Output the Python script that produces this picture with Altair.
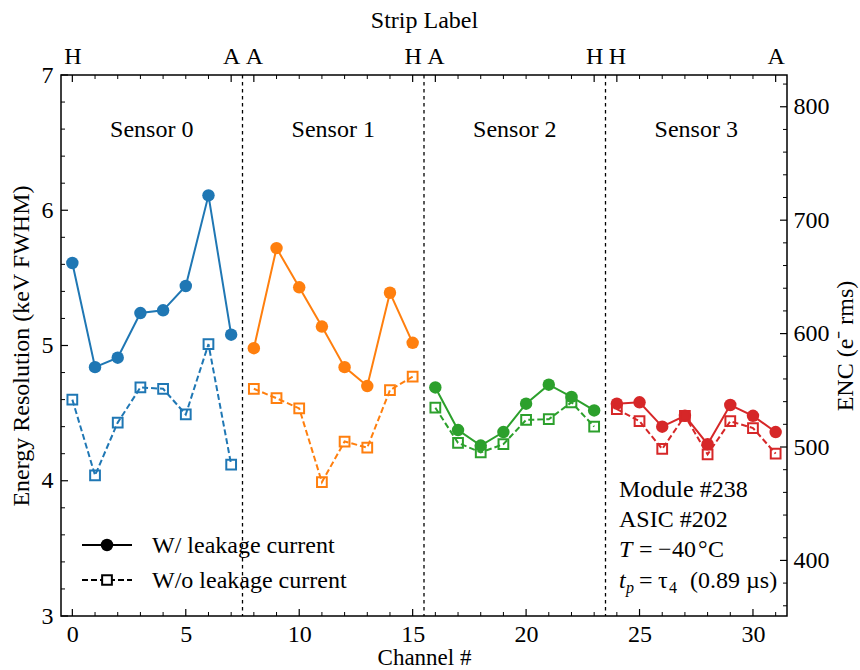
import altair as alt
import pandas as pd

# ---------------- data ----------------
channels = list(range(32))
sensor_names = ["Sensor 0", "Sensor 1", "Sensor 2", "Sensor 3"]
sensor_colors = ["#1f77b4", "#ff7f0e", "#2ca02c", "#d62728"]
with_leak = [5.61, 4.84, 4.91, 5.24, 5.26, 5.44, 6.11, 5.08,
             4.98, 5.72, 5.43, 5.14, 4.84, 4.70, 5.39, 5.02,
             4.69, 4.375, 4.26, 4.36, 4.57, 4.71, 4.62, 4.52,
             4.57, 4.58, 4.40, 4.48, 4.27, 4.56, 4.48, 4.36]
without_leak = [4.60, 4.04, 4.43, 4.69, 4.68, 4.49, 5.01, 4.12,
                4.68, 4.61, 4.535, 3.99, 4.29, 4.245, 4.67, 4.77,
                4.54, 4.28, 4.21, 4.27, 4.45, 4.455, 4.58, 4.40,
                4.53, 4.44, 4.235, 4.48, 4.195, 4.44, 4.39, 4.20]
strip_tick_channels = [0, 7, 8, 15, 16, 23, 24, 31]
strip_tick_labels = ["H", "A", "A", "H", "A", "H", "H", "A"]
boundaries = [7.5, 15.5, 23.5]
x_major = [0, 5, 10, 15, 20, 25, 30]
y_major = [3, 4, 5, 6, 7]
y_minor = [3.2, 3.4, 3.6, 3.8, 4.2, 4.4, 4.6, 4.8, 5.2, 5.4, 5.6, 5.8,
           6.2, 6.4, 6.6, 6.8]
enc_major = [400, 500, 600, 700, 800]
enc_minor = [360, 380, 420, 440, 460, 480, 520, 540, 560, 580, 620, 640,
             660, 680, 720, 740, 760, 780, 820]
enc_domain = [351, 828]
legend_labels = ["W/ leakage current", "W/o leakage current"]
info_lines = ["Module #238", "ASIC #202"]

df = pd.DataFrame({
    "channel": channels,
    "sensor": [sensor_names[c // 8] for c in channels],
    "with": with_leak,
    "without": without_leak,
})
sensor_df = pd.DataFrame({
    "sensor": sensor_names,
    "center": [sum(channels[i * 8:(i + 1) * 8]) / 8 for i in range(4)],
})

W, H = 726, 541
FONT = "Liberation Serif"
FS = 24
one = pd.DataFrame({"a": [0]})

xs = alt.Scale(domain=[-0.5, 31.5], nice=False, zero=False)
ys = alt.Scale(domain=[3, 7], nice=False, zero=False)
x_axis = alt.Axis(orient="bottom", values=x_major, title="Channel #",
                  labelPadding=6, titlePadding=0, titleFontSize=23, labelFlush=False)
y_axis = alt.Axis(orient="left", values=y_major, title="Energy Resolution (keV FWHM)",
                  labelPadding=8, titlePadding=8, format="d")
color = alt.Color("sensor:N", scale=alt.Scale(domain=sensor_names, range=sensor_colors),
                  legend=None)


def X(f):
    return alt.X(f, type="quantitative", scale=xs, axis=x_axis)


def Y(f):
    return alt.Y(f, type="quantitative", scale=ys, axis=y_axis)


base = alt.Chart(df)
line_with = base.mark_line(strokeWidth=2).encode(x=X("channel"), y=Y("with"), color=color)
line_without = base.mark_line(strokeWidth=2, strokeDash=[6, 3]).encode(
    x=X("channel"), y=Y("without"), color=color)
pts_with = base.mark_point(shape="circle", filled=True, size=155, opacity=1).encode(
    x=X("channel"), y=Y("with"), color=color)
pts_without = base.mark_point(shape="square", filled=False, size=95, strokeWidth=2,
                              opacity=1).encode(
    x=X("channel"), y=Y("without"), color=color)

vlines = alt.Chart(pd.DataFrame({"b": boundaries})).mark_rule(
    color="black", strokeWidth=1.3, strokeDash=[3.5, 3.5]).encode(x=X("b"))

sensor_text = alt.Chart(sensor_df).mark_text(
    font=FONT, fontSize=FS, baseline="middle", align="center", color="black").encode(
    x=X("center"), y=alt.value(55), text="sensor:N")

# minor/major ticks drawn inward
bot_major = alt.Chart(pd.DataFrame({"t": x_major})).mark_rule(color="black", strokeWidth=1.2).encode(
    x=X("t"), y=alt.value(H), y2=alt.value(H - 7))
bot_minor = alt.Chart(pd.DataFrame({"t": [c for c in channels if c not in x_major]})).mark_rule(
    color="black", strokeWidth=1).encode(x=X("t"), y=alt.value(H), y2=alt.value(H - 4))
left_major = alt.Chart(pd.DataFrame({"t": y_major})).mark_rule(color="black", strokeWidth=1.2).encode(
    y=Y("t"), x=alt.value(0), x2=alt.value(7))
left_minor = alt.Chart(pd.DataFrame({"t": y_minor})).mark_rule(color="black", strokeWidth=1).encode(
    y=Y("t"), x=alt.value(0), x2=alt.value(4))

# legend (manual)
LX0, LX1, LY0, LY1, LT = 21, 71, 470, 505, 91
leg_line1 = alt.Chart(one).mark_rule(color="black", strokeWidth=2).encode(
    x=alt.value(LX0), x2=alt.value(LX1), y=alt.value(LY0))
leg_line2 = alt.Chart(one).mark_rule(color="black", strokeWidth=2, strokeDash=[6, 3]).encode(
    x=alt.value(LX0), x2=alt.value(LX1), y=alt.value(LY1))
leg_pt1 = alt.Chart(one).mark_point(shape="circle", filled=True, size=155, color="black",
                                     opacity=1).encode(
    x=alt.value((LX0 + LX1) / 2), y=alt.value(LY0))
leg_pt2 = alt.Chart(one).mark_point(shape="square", filled=True, size=95, color="white",
                                     stroke="black", strokeWidth=2, opacity=1).encode(
    x=alt.value((LX0 + LX1) / 2), y=alt.value(LY1))
leg_t1 = alt.Chart(one).mark_text(font=FONT, fontSize=FS, align="left", baseline="middle",
                                  color="black").encode(
    x=alt.value(LT), y=alt.value(LY0 + 1), text=alt.value(legend_labels[0]))
leg_t2 = alt.Chart(one).mark_text(font=FONT, fontSize=FS, align="left", baseline="middle",
                                  color="black").encode(
    x=alt.value(LT), y=alt.value(LY1 + 1), text=alt.value(legend_labels[1]))


# info text block
def txt(s, x, y, size=FS, style="normal"):
    return alt.Chart(one).mark_text(font=FONT, fontSize=size, align="left",
                                    baseline="alphabetic", color="black",
                                    fontStyle=style).encode(
        x=alt.value(x), y=alt.value(y), text=alt.value(s))


IX = 558
info = [
    txt(info_lines[0], IX, 422),
    txt(info_lines[1], IX, 452),
    txt("T", IX, 482, style="italic"),
    txt("=", IX + 20, 482),
    txt("\u2212", IX + 39, 482),
    txt("40", IX + 53, 482),
    txt("\u00b0", IX + 79, 482),
    txt("C", IX + 89, 482),
    txt("t", IX, 513, style="italic"),
    txt("p", IX + 7, 518, size=16, style="italic"),
    txt("=", IX + 20, 513),
    txt("\u03c4", IX + 39, 513),
    txt("4", IX + 50, 518, size=16),
    txt("(0.89 \u00b5s)", IX + 71, 513),
]

main = alt.layer(vlines, line_with, line_without, pts_with, pts_without, sensor_text,
                 bot_major, bot_minor, left_major, left_minor,
                 leg_line1, leg_line2, leg_pt1, leg_pt2, leg_t1, leg_t2, *info)

# right ENC axis
enc_axis = alt.Axis(orient="right", values=enc_major, title="ENC (e\u207b rms)",
                    labelPadding=6, titlePadding=28, titleAngle=270)
enc_scale = alt.Scale(domain=enc_domain, nice=False, zero=False)
right_major = alt.Chart(pd.DataFrame({"e": enc_major})).mark_rule(color="black", strokeWidth=1.2).encode(
    y=alt.Y("e:Q", scale=enc_scale, axis=enc_axis), x=alt.value(W - 7), x2=alt.value(W))
right_minor = alt.Chart(pd.DataFrame({"e": enc_minor})).mark_rule(color="black", strokeWidth=1).encode(
    y=alt.Y("e:Q", scale=enc_scale, axis=enc_axis), x=alt.value(W - 4), x2=alt.value(W))
right = alt.layer(right_major, right_minor)

# top strip-label axis
label_expr = ""
for v, l in zip(strip_tick_channels, strip_tick_labels):
    label_expr += f"datum.value == {v} ? '{l}' : "
label_expr += "''"
top_axis = alt.Axis(orient="top", values=strip_tick_channels, labelExpr=label_expr,
                    title="Strip Label", labelOverlap=False, labelFlush=False,
                    labelPadding=7, titlePadding=12)
top_major = alt.Chart(pd.DataFrame({"c": strip_tick_channels})).mark_rule(
    color="black", strokeWidth=1.2).encode(
    x=alt.X("c:Q", scale=xs, axis=top_axis), y=alt.value(0), y2=alt.value(7))
top_minor = alt.Chart(pd.DataFrame({"c": [c for c in channels if c not in strip_tick_channels]})).mark_rule(
    color="black", strokeWidth=1).encode(
    x=alt.X("c:Q", scale=xs, axis=top_axis), y=alt.value(0), y2=alt.value(4))
top = alt.layer(top_major, top_minor)

chart = alt.layer(main, right, top).resolve_scale(
    x="independent", y="independent").properties(
    width=W, height=H,
    padding={"left": 61, "top": 75, "right": 860 - 61 - W, "bottom": 670 - 75 - H},
    autosize=alt.AutoSizeParams(type="none"),
    background="white",
).configure_view(stroke="black", strokeWidth=1.5).configure_axis(
    labelFont=FONT, labelFontSize=FS, labelColor="black",
    titleFont=FONT, titleFontSize=FS, titleFontWeight="normal", titleColor="black",
    ticks=False, tickSize=0, domain=False, grid=False,
)

chart.save("out.html", embed_options={"renderer": "svg", "actions": False})
